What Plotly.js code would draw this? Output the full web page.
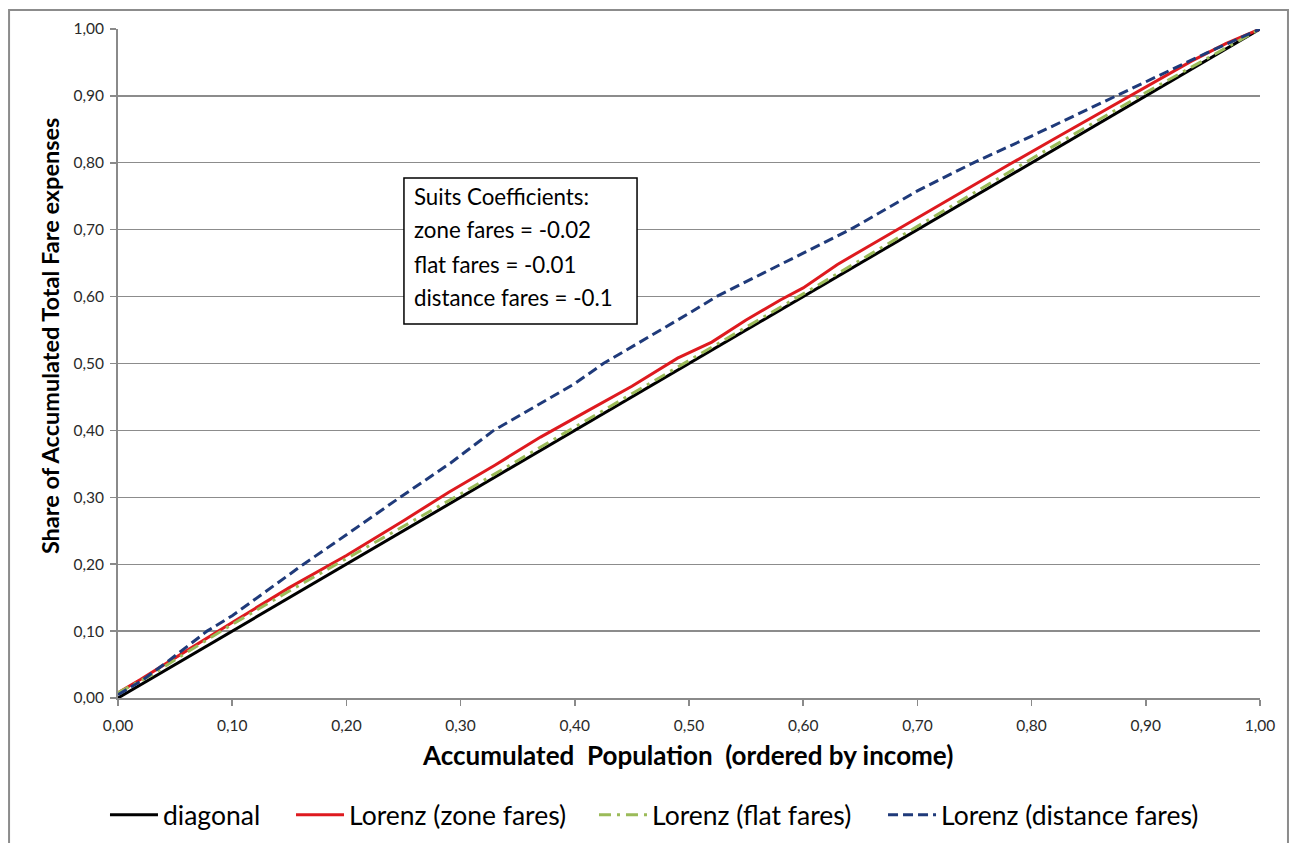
<!DOCTYPE html>
<html>
<head>
<meta charset="utf-8">
<script src="https://cdn.plot.ly/plotly-3.0.1.min.js"></script>
<style>
  html, body { margin: 0; padding: 0; background: #ffffff; }
  #chart { width: 1290px; height: 843px; }
</style>
</head>
<body>
<div id="chart"></div>
<script>
// ---- data ----
const diagonalX = [0, 1];
const diagonalY = [0, 1];

const zoneX = [0, 0.02, 0.05, 0.08, 0.10, 0.15, 0.20, 0.25, 0.29, 0.33, 0.37, 0.41, 0.45, 0.49, 0.52, 0.55, 0.58, 0.60, 0.63, 0.66, 0.70, 0.74, 0.78, 0.82, 0.86, 0.90, 0.94, 0.97, 1.00];
const zoneY = [0.008, 0.028, 0.060, 0.092, 0.113, 0.165, 0.213, 0.265, 0.308, 0.348, 0.390, 0.428, 0.466, 0.508, 0.532, 0.565, 0.595, 0.613, 0.648, 0.678, 0.718, 0.758, 0.797, 0.836, 0.875, 0.913, 0.952, 0.978, 1.000];

const flatX = [0, 0.03, 0.06, 0.10, 0.15, 0.20, 0.25, 0.30, 0.40, 0.50, 0.60, 0.70, 0.80, 0.90, 1.00];
const flatY = [0.008, 0.035, 0.068, 0.110, 0.160, 0.208, 0.256, 0.305, 0.405, 0.504, 0.604, 0.705, 0.806, 0.905, 1.000];

const distanceX = [0, 0.02, 0.04, 0.06, 0.078, 0.10, 0.1625, 0.20, 0.247, 0.291, 0.329, 0.40, 0.425, 0.50, 0.524, 0.60, 0.641, 0.70, 0.749, 0.80, 0.874, 0.90, 0.953, 1.00];
const distanceY = [0.005, 0.025, 0.050, 0.077, 0.100, 0.123, 0.200, 0.244, 0.300, 0.351, 0.400, 0.470, 0.500, 0.575, 0.600, 0.665, 0.700, 0.758, 0.800, 0.840, 0.900, 0.921, 0.964, 1.000];

const seriesNames = ['diagonal', 'Lorenz (zone fares)', 'Lorenz (flat fares)', 'Lorenz (distance fares)'];
const tickVals = [0, 0.1, 0.2, 0.3, 0.4, 0.5, 0.6, 0.7, 0.8, 0.9, 1.0];
const boxLines = ['Suits Coefficients:', 'zone fares = -0.02', 'flat fares = -0.01', 'distance fares = -0.1'];
const xTitle = 'Accumulated&nbsp; Population&nbsp; (ordered by income)';
const yTitle = 'Share of Accumulated Total Fare expenses';

// ---- chart ----
const FONT = 'Lato, "Open Sans", "DejaVu Sans", sans-serif';

const traces = [
  { x: diagonalX, y: diagonalY, name: seriesNames[0], mode: 'lines', legend: 'legend',
    line: { color: '#000000', width: 3 } },
  { x: zoneX, y: zoneY, name: seriesNames[1], mode: 'lines', legend: 'legend2',
    line: { color: '#de1a1f', width: 3 } },
  { x: flatX, y: flatY, name: seriesNames[2], mode: 'lines', legend: 'legend3',
    line: { color: '#9bbb59', width: 3, dash: '12px,6px,3px,6px' } },
  { x: distanceX, y: distanceY, name: seriesNames[3], mode: 'lines', legend: 'legend4',
    line: { color: '#1f3a7a', width: 3, dash: '10px,5px' } }
];

const boxYs = [0.7489, 0.6996, 0.6487, 0.5994];
const annotations = boxLines.map((t, i) => ({
  xref: 'paper', yref: 'paper', x: 0.2575, y: boxYs[i],
  xanchor: 'left', yanchor: 'middle', showarrow: false, text: t,
  font: { family: FONT, size: 22.3, color: '#000000' }
}));
annotations.push({
  xref: 'paper', yref: 'paper', x: -0.0595, y: 0.541,
  xanchor: 'center', yanchor: 'middle', showarrow: false, textangle: -90,
  text: '<b>' + yTitle + '</b>',
  font: { family: FONT, size: 23.5, color: '#000000' }
});
annotations.push({
  xref: 'paper', yref: 'paper', x: 0.499, y: -0.085,
  xanchor: 'center', yanchor: 'middle', showarrow: false,
  text: '<b>' + xTitle + '</b>',
  font: { family: FONT, size: 26, color: '#000000' }
});

function legendAt(xp) {
  return {
    orientation: 'h', xref: 'paper', yref: 'paper',
    x: xp, xanchor: 'left', y: -0.175, yanchor: 'middle',
    itemwidth: 48,
    font: { family: FONT, size: 26.5, color: '#000000' },
    bgcolor: 'rgba(0,0,0,0)', borderwidth: 0
  };
}

const layout = {
  width: 1290, height: 843,
  margin: { l: 118, r: 30, t: 29, b: 145, autoexpand: false },
  paper_bgcolor: '#ffffff', plot_bgcolor: '#ffffff',
  separators: ',.',
  font: { family: FONT, color: '#222222' },
  showlegend: true,
  legend: legendAt(-0.0114),
  legend2: legendAt(0.1515),
  legend3: legendAt(0.4168),
  legend4: legendAt(0.6699),
  xaxis: {
    range: [0, 1], tickvals: tickVals, tickformat: '.2f',
    showgrid: false, zeroline: false,
    showline: true, linecolor: '#8a8a8a', linewidth: 2,
    ticks: 'outside', ticklen: 6, tickcolor: '#8a8a8a', tickwidth: 1.5,
    ticklabelstandoff: 6,
    tickfont: { family: FONT, size: 15.5, color: '#2a2a2a' },
    fixedrange: true
  },
  yaxis: {
    range: [0, 1], tickvals: tickVals, tickformat: '.2f',
    showgrid: true, gridcolor: '#8c8c8c', gridwidth: 1.2, zeroline: false,
    showline: true, linecolor: '#8a8a8a', linewidth: 2,
    ticks: 'outside', ticklen: 6, tickcolor: '#8a8a8a', tickwidth: 1.5,
    ticklabelstandoff: 3,
    tickfont: { family: FONT, size: 15.5, color: '#2a2a2a' },
    fixedrange: true
  },
  shapes: [
    { type: 'rect', xref: 'paper', yref: 'paper',
      x0: -0.0954, x1: 1.0245, y0: -0.35, y1: 1.0284,
      line: { color: '#8c8c8c', width: 2 }, fillcolor: 'rgba(0,0,0,0)', layer: 'below' },
    { type: 'rect', xref: 'paper', yref: 'paper',
      x0: 0.2504, x1: 0.4545, y0: 0.5590, y1: 0.7773,
      line: { color: '#000000', width: 1.5 }, fillcolor: '#ffffff', layer: 'above' }
  ],
  annotations: annotations
};

Plotly.newPlot('chart', traces, layout, { displayModeBar: false, staticPlot: true });
</script>
</body>
</html>
